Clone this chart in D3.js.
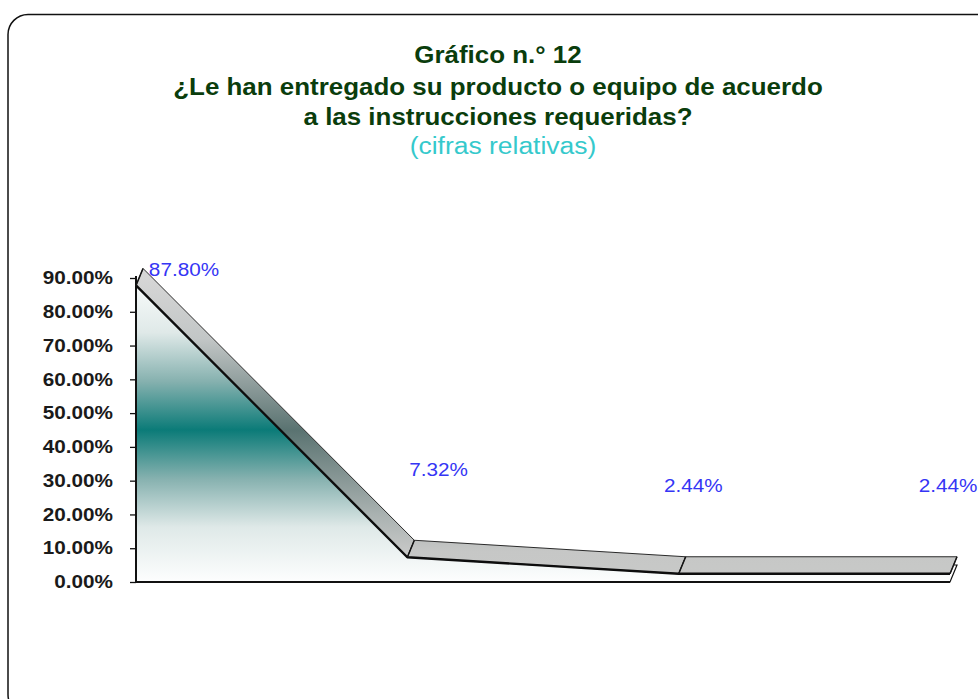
<!DOCTYPE html>
<html lang="es">
<head>
<meta charset="utf-8">
<title>Gráfico n.° 12</title>
<script src="https://cdn.jsdelivr.net/npm/d3@7/dist/d3.min.js"></script>
<style>
  html, body { margin: 0; padding: 0; background: #ffffff; overflow: hidden; }
  svg { display: block; }
  text { font-family: "Liberation Sans", Arial, sans-serif; }
</style>
</head>
<body>
<svg id="chart" width="978" height="699"></svg>
<script>
// Respuestas (cifras relativas, %)
const categories = ["Opción 1", "Opción 2", "Opción 3", "Opción 4"];
const values = [87.80, 7.32, 2.44, 2.44];
const valueLabels = ["87.80%", "7.32%", "2.44%", "2.44%"];
const yTicks = [0, 10, 20, 30, 40, 50, 60, 70, 80, 90];
const titleLines = [
  "Gráfico n.° 12",
  "¿Le han entregado su producto o equipo de acuerdo",
  "a las instrucciones requeridas?"
];
const subtitle = "(cifras relativas)";

const svg = d3.select("#chart");
const STRETCH = 1.15;            // horizontal widening of the lettering
const depth = { dx: 7, dy: -17 }; // 3-D offset from front to back edge

// widen a text element horizontally by a factor
function stretch(sel, k = STRETCH) {
  sel.each(function () {
    const len = this.getComputedTextLength();
    d3.select(this).attr("textLength", len * k).attr("lengthAdjust", "spacingAndGlyphs");
  });
  return sel;
}

const defs = svg.append("defs");
const x = d3.scalePoint().domain(categories).range([136, 950]);
const y = d3.scaleLinear().domain([0, 90]).range([582, 278]);

// vertical teal fade under the ribbon
const areaGrad = defs.append("linearGradient")
  .attr("id", "areaGrad").attr("gradientUnits", "userSpaceOnUse")
  .attr("x1", 0).attr("x2", 0).attr("y1", y(90)).attr("y2", y(0));
[[0, "#fbfdfd"], [0.18, "#dfe9e8"], [0.34, "#86b1af"], [0.5, "#0b7b78"],
 [0.66, "#86b1af"], [0.82, "#dfe9e8"], [1, "#fdfefe"]]
  .forEach(([o, c]) => areaGrad.append("stop").attr("offset", o).attr("stop-color", c));

// grey shading of the ribbon's top face
const ribbonGrad = defs.append("linearGradient")
  .attr("id", "ribbonGrad").attr("gradientUnits", "userSpaceOnUse")
  .attr("x1", 0).attr("x2", 0).attr("y1", y(90)).attr("y2", y(0));
[[0, "#d6d6d6"], [0.2, "#c2c6c6"], [0.5, "#5a7371"], [0.78, "#aab2b1"], [0.9, "#c6c7c6"], [1, "#c8c9c8"]]
  .forEach(([o, c]) => ribbonGrad.append("stop").attr("offset", o).attr("stop-color", c));

// outer frame
svg.append("rect")
  .attr("x", 8).attr("y", 14.5).attr("width", 990).attr("height", 700)
  .attr("rx", 20).attr("ry", 20)
  .attr("fill", "#ffffff").attr("stroke", "#111").attr("stroke-width", 1.5);

// titles
const cx = 498;
const titleY = [55, 87, 117];
titleLines.forEach((t, i) => {
  svg.append("text")
    .attr("x", cx).attr("y", titleY[i]).attr("dy", "0.35em")
    .attr("text-anchor", "middle")
    .attr("font-size", 24).attr("font-weight", "bold").attr("fill", "#0a3d0c")
    .text(t).call(stretch, 1.08);
});
svg.append("text")
  .attr("x", cx + 5).attr("y", 146).attr("dy", "0.35em")
  .attr("text-anchor", "middle")
  .attr("font-size", 23).attr("fill", "#35c9cc")
  .text(subtitle).call(stretch);

// floor slab
const first = categories[0], last = categories[categories.length - 1];
svg.append("polygon")
  .attr("points", [
    [x(first), y(0)], [x(last), y(0)],
    [x(last) + depth.dx, y(0) + depth.dy], [x(first) + depth.dx, y(0) + depth.dy]
  ].map(p => p.join(",")).join(" "))
  .attr("fill", "#ffffff").attr("stroke", "#111").attr("stroke-width", 1.2);

// shaded area beneath the ribbon
const area = d3.area()
  .x((d, i) => x(categories[i]))
  .y0(y(0))
  .y1(d => y(d));
svg.append("path").datum(values).attr("d", area).attr("fill", "url(#areaGrad)");

// value axis
const yAxis = d3.axisLeft(y).tickValues(yTicks).tickSize(6).tickPadding(17)
  .tickFormat(d => d3.format(".2f")(d) + "%");
const gy = svg.append("g").attr("transform", `translate(${x(first)},0)`).call(yAxis);
gy.select(".domain").attr("stroke", "#111").attr("stroke-width", 2)
  .attr("d", `M0,${y(90) - 2}V${y(0)}`);
gy.selectAll(".tick line").attr("stroke", "#111").attr("stroke-width", 1.3);
gy.selectAll(".tick text")
  .attr("font-size", 18).attr("font-weight", "bold").attr("fill", "#1a1a1a")
  .attr("font-family", "Liberation Sans, Arial, sans-serif")
  .call(stretch);

// category baseline
svg.append("line")
  .attr("x1", x(first)).attr("x2", x(last))
  .attr("y1", y(0)).attr("y2", y(0))
  .attr("stroke", "#111").attr("stroke-width", 2.2);

// 3-D ribbon
const pts = values.map((v, i) => ({ fx: x(categories[i]), fy: y(v) }));
const ribbon = svg.append("g");
for (let i = 0; i < pts.length - 1; i++) {
  const a = pts[i], b = pts[i + 1];
  const poly = [
    [a.fx, a.fy], [b.fx, b.fy],
    [b.fx + depth.dx, b.fy + depth.dy], [a.fx + depth.dx, a.fy + depth.dy]
  ];
  ribbon.append("polygon")
    .attr("points", poly.map(p => p.join(",")).join(" "))
    .attr("fill", "url(#ribbonGrad)")
    .attr("stroke", "#2a2a2a").attr("stroke-width", 1).attr("stroke-linejoin", "round");
}
// front edge of the ribbon
ribbon.append("path")
  .datum(values)
  .attr("d", d3.line().x((d, i) => x(categories[i])).y(d => y(d)))
  .attr("fill", "none").attr("stroke", "#0d0d0d").attr("stroke-width", 2.4)
  .attr("stroke-linejoin", "round");
// end and joint creases
pts.forEach(p => {
  ribbon.append("line")
    .attr("x1", p.fx).attr("y1", p.fy)
    .attr("x2", p.fx + depth.dx).attr("y2", p.fy + depth.dy)
    .attr("stroke", "#151515").attr("stroke-width", 1.5);
});

// value labels
const lx = d3.scalePoint().domain(categories).range([184, 948]);
values.forEach((v, i) => {
  svg.append("text")
    .attr("x", lx(categories[i]))
    .attr("y", Math.max(y(v) - 88, y(90) - 8))
    .attr("dy", "0.35em")
    .attr("text-anchor", "middle")
    .attr("font-size", 18).attr("fill", "#3535f5")
    .text(valueLabels[i]).call(stretch);
});
</script>
</body>
</html>
